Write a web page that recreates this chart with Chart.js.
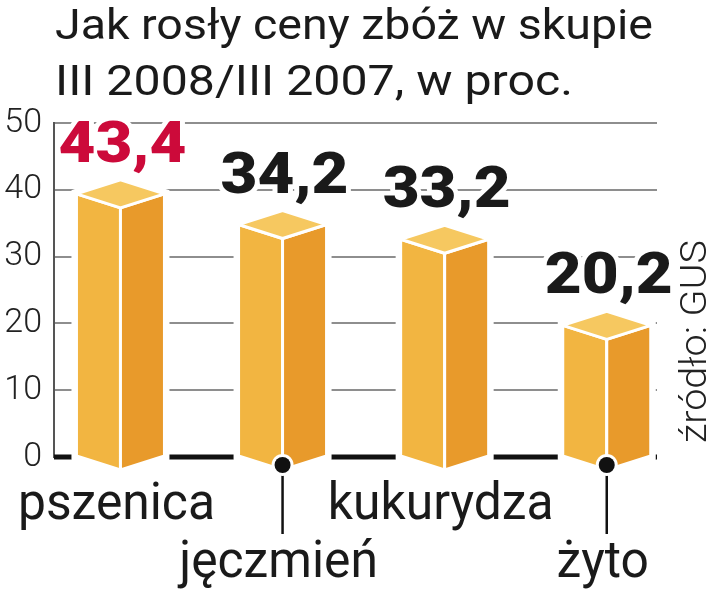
<!DOCTYPE html>
<html>
<head>
<meta charset="utf-8">
<script src="https://cdn.jsdelivr.net/npm/chart.js@4"></script>
<style>
  html, body { margin: 0; padding: 0; background: #ffffff; }
  #wrap { width: 720px; height: 591px; }
</style>
</head>
<body>
<div id="wrap"><canvas id="c" width="720" height="591"></canvas></div>
<script>
// ---- data ----
const titleLines = ['Jak rosły ceny zbóż w skupie', 'III 2008/III 2007, w proc.'];
const sourceText = 'źródło: GUS';
const categories = ['pszenica', 'jęczmień', 'kukurydza', 'żyto'];
const values = [43.4, 34.2, 33.2, 20.2];          // printed values
const barHeights = [39.4, 34.8, 32.6, 19.7];      // bar heights as drawn in the graphic
const yTicks = [0, 10, 20, 30, 40, 50];

const FACE_LEFT = '#f2b541';
const FACE_RIGHT = '#e89a2b';
const FACE_TOP = '#f6c860';
const RED = '#cc0a3a';
const INK = '#1a1a1a';

function fitScale(ctx, font, text, target) {
  ctx.save(); ctx.font = font;
  const w = ctx.measureText(text).width;
  ctx.restore();
  return target / w;
}
function drawText(ctx, text, x, y, font, sx, align, color, halo) {
  ctx.save();
  ctx.translate(x, y);
  ctx.scale(sx, 1);
  ctx.font = font;
  ctx.textAlign = align;
  ctx.textBaseline = 'alphabetic';
  if (halo) {
    ctx.lineJoin = 'round';
    ctx.strokeStyle = '#ffffff';
    ctx.lineWidth = halo;
    ctx.strokeText(text, 0, 0);
  }
  ctx.fillStyle = color;
  ctx.fillText(text, 0, 0);
  ctx.restore();
}
function poly(ctx, pts) {
  ctx.beginPath();
  ctx.moveTo(pts[0][0], pts[0][1]);
  for (let i = 1; i < pts.length; i++) ctx.lineTo(pts[i][0], pts[i][1]);
  ctx.closePath();
}

const prismPlugin = {
  id: 'prism',
  afterDatasetsDraw(chart) {
    const ctx = chart.ctx;
    const area = chart.chartArea;
    const ys = chart.scales.y;
    const base0 = ys.getPixelForValue(0);

    // thick baseline
    ctx.save();
    ctx.strokeStyle = '#111111';
    ctx.lineWidth = 5;
    ctx.beginPath();
    ctx.moveTo(area.left, base0);
    ctx.lineTo(area.right, base0);
    ctx.stroke();
    ctx.restore();

    const meta = chart.getDatasetMeta(0);
    const d = 14;
    const valFont = '900 58px Roboto, "Liberation Sans", sans-serif';
    const valSx = fitScale(ctx, valFont, '43,4', 128);
    const catFont = '400 52px Roboto, "Liberation Sans", sans-serif';
    const catSx = fitScale(ctx, catFont, 'pszenica', 197);
    const maxV = Math.max(...values);

    meta.data.forEach((el, i) => {
      const p = el.getProps(['x', 'y', 'base', 'width'], true);
      const x = p.x, top = p.y, base = p.base, hw = p.width / 2;
      ctx.save();
      // white halo
      const outline = [[x - hw, top], [x, top - d], [x + hw, top], [x + hw, base], [x, base + d], [x - hw, base]];
      poly(ctx, outline);
      ctx.fillStyle = '#fff';
      ctx.fill();
      ctx.strokeStyle = '#fff';
      ctx.lineWidth = 10;
      ctx.lineJoin = 'miter';
      ctx.stroke();
      // faces
      ctx.lineWidth = 3;
      ctx.lineJoin = 'round';
      poly(ctx, [[x - hw, top], [x, top + d], [x, base + d], [x - hw, base]]);
      ctx.fillStyle = FACE_LEFT; ctx.fill(); ctx.stroke();
      poly(ctx, [[x, top + d], [x + hw, top], [x + hw, base], [x, base + d]]);
      ctx.fillStyle = FACE_RIGHT; ctx.fill(); ctx.stroke();
      poly(ctx, [[x - hw, top], [x, top - d], [x + hw, top], [x, top + d]]);
      ctx.fillStyle = FACE_TOP; ctx.fill(); ctx.stroke();
      ctx.restore();

      // value label
      const txt = values[i].toFixed(1).replace('.', ',');
      drawText(ctx, txt, x + 2, top - 32, valFont, valSx, 'center',
               values[i] === maxV ? RED : INK, 9);

      // category label (staggered)
      const row2 = i % 2 === 1;
      if (row2) {
        ctx.save();
        ctx.strokeStyle = '#111';
        ctx.lineWidth = 2.5;
        ctx.beginPath();
        ctx.moveTo(x, base + 9);
        ctx.lineTo(x, base + 78);
        ctx.stroke();
        ctx.beginPath();
        ctx.arc(x, base + 9, 11, 0, Math.PI * 2);
        ctx.fillStyle = '#fff';
        ctx.fill();
        ctx.beginPath();
        ctx.arc(x, base + 9, 8, 0, Math.PI * 2);
        ctx.fillStyle = '#111';
        ctx.fill();
        ctx.restore();
      }
      drawText(ctx, categories[i], x - 4, row2 ? base + 121 : base + 63, catFont, catSx, 'center', INK, 0);
    });

    // title
    const tFont = '400 43px Roboto, "Liberation Sans", sans-serif';
    drawText(ctx, titleLines[0], 55, 39, tFont, fitScale(ctx, tFont, titleLines[0], 598), 'left', INK, 0);
    drawText(ctx, titleLines[1], 55, 95, tFont, fitScale(ctx, tFont, titleLines[1], 518), 'left', INK, 0);

    // source, rotated
    const sFont = '300 37px Roboto, "Liberation Sans", sans-serif';
    const sSx = fitScale(ctx, sFont, sourceText, 203);
    ctx.save();
    ctx.translate(706, 443);
    ctx.rotate(-Math.PI / 2);
    drawText(ctx, sourceText, 0, 0, sFont, sSx, 'left', '#222', 0);
    ctx.restore();
  }
};

new Chart(document.getElementById('c'), {
  type: 'bar',
  data: {
    datasets: [{
      data: categories.map((c, i) => ({ x: i, y: barHeights[i] })),
      backgroundColor: 'rgba(0,0,0,0)',
      borderWidth: 0,
      barThickness: 88
    }]
  },
  options: {
    responsive: false,
    animation: false,
    devicePixelRatio: 1,
    layout: { padding: { top: 123, bottom: 134, left: 0, right: 63 } },
    plugins: { legend: { display: false }, tooltip: { enabled: false }, title: { display: false } },
    scales: {
      x: { type: 'linear', offset: false, min: -0.41, max: 3.31, display: false },
      y: {
        min: 0, max: 50,
        afterBuildTicks: (s) => { s.ticks = yTicks.map(v => ({ value: v })); },
        afterFit: (s) => { s.width = 54; },
        grid: { color: '#8e8e8e', lineWidth: 2, drawTicks: false },
        border: { display: true, color: '#555555', width: 2 },
        ticks: {
          padding: 12,
          color: '#222222',
          font: { family: 'Roboto', weight: '300', size: 34 }
        }
      }
    }
  },
  plugins: [prismPlugin]
});
</script>
</body>
</html>
